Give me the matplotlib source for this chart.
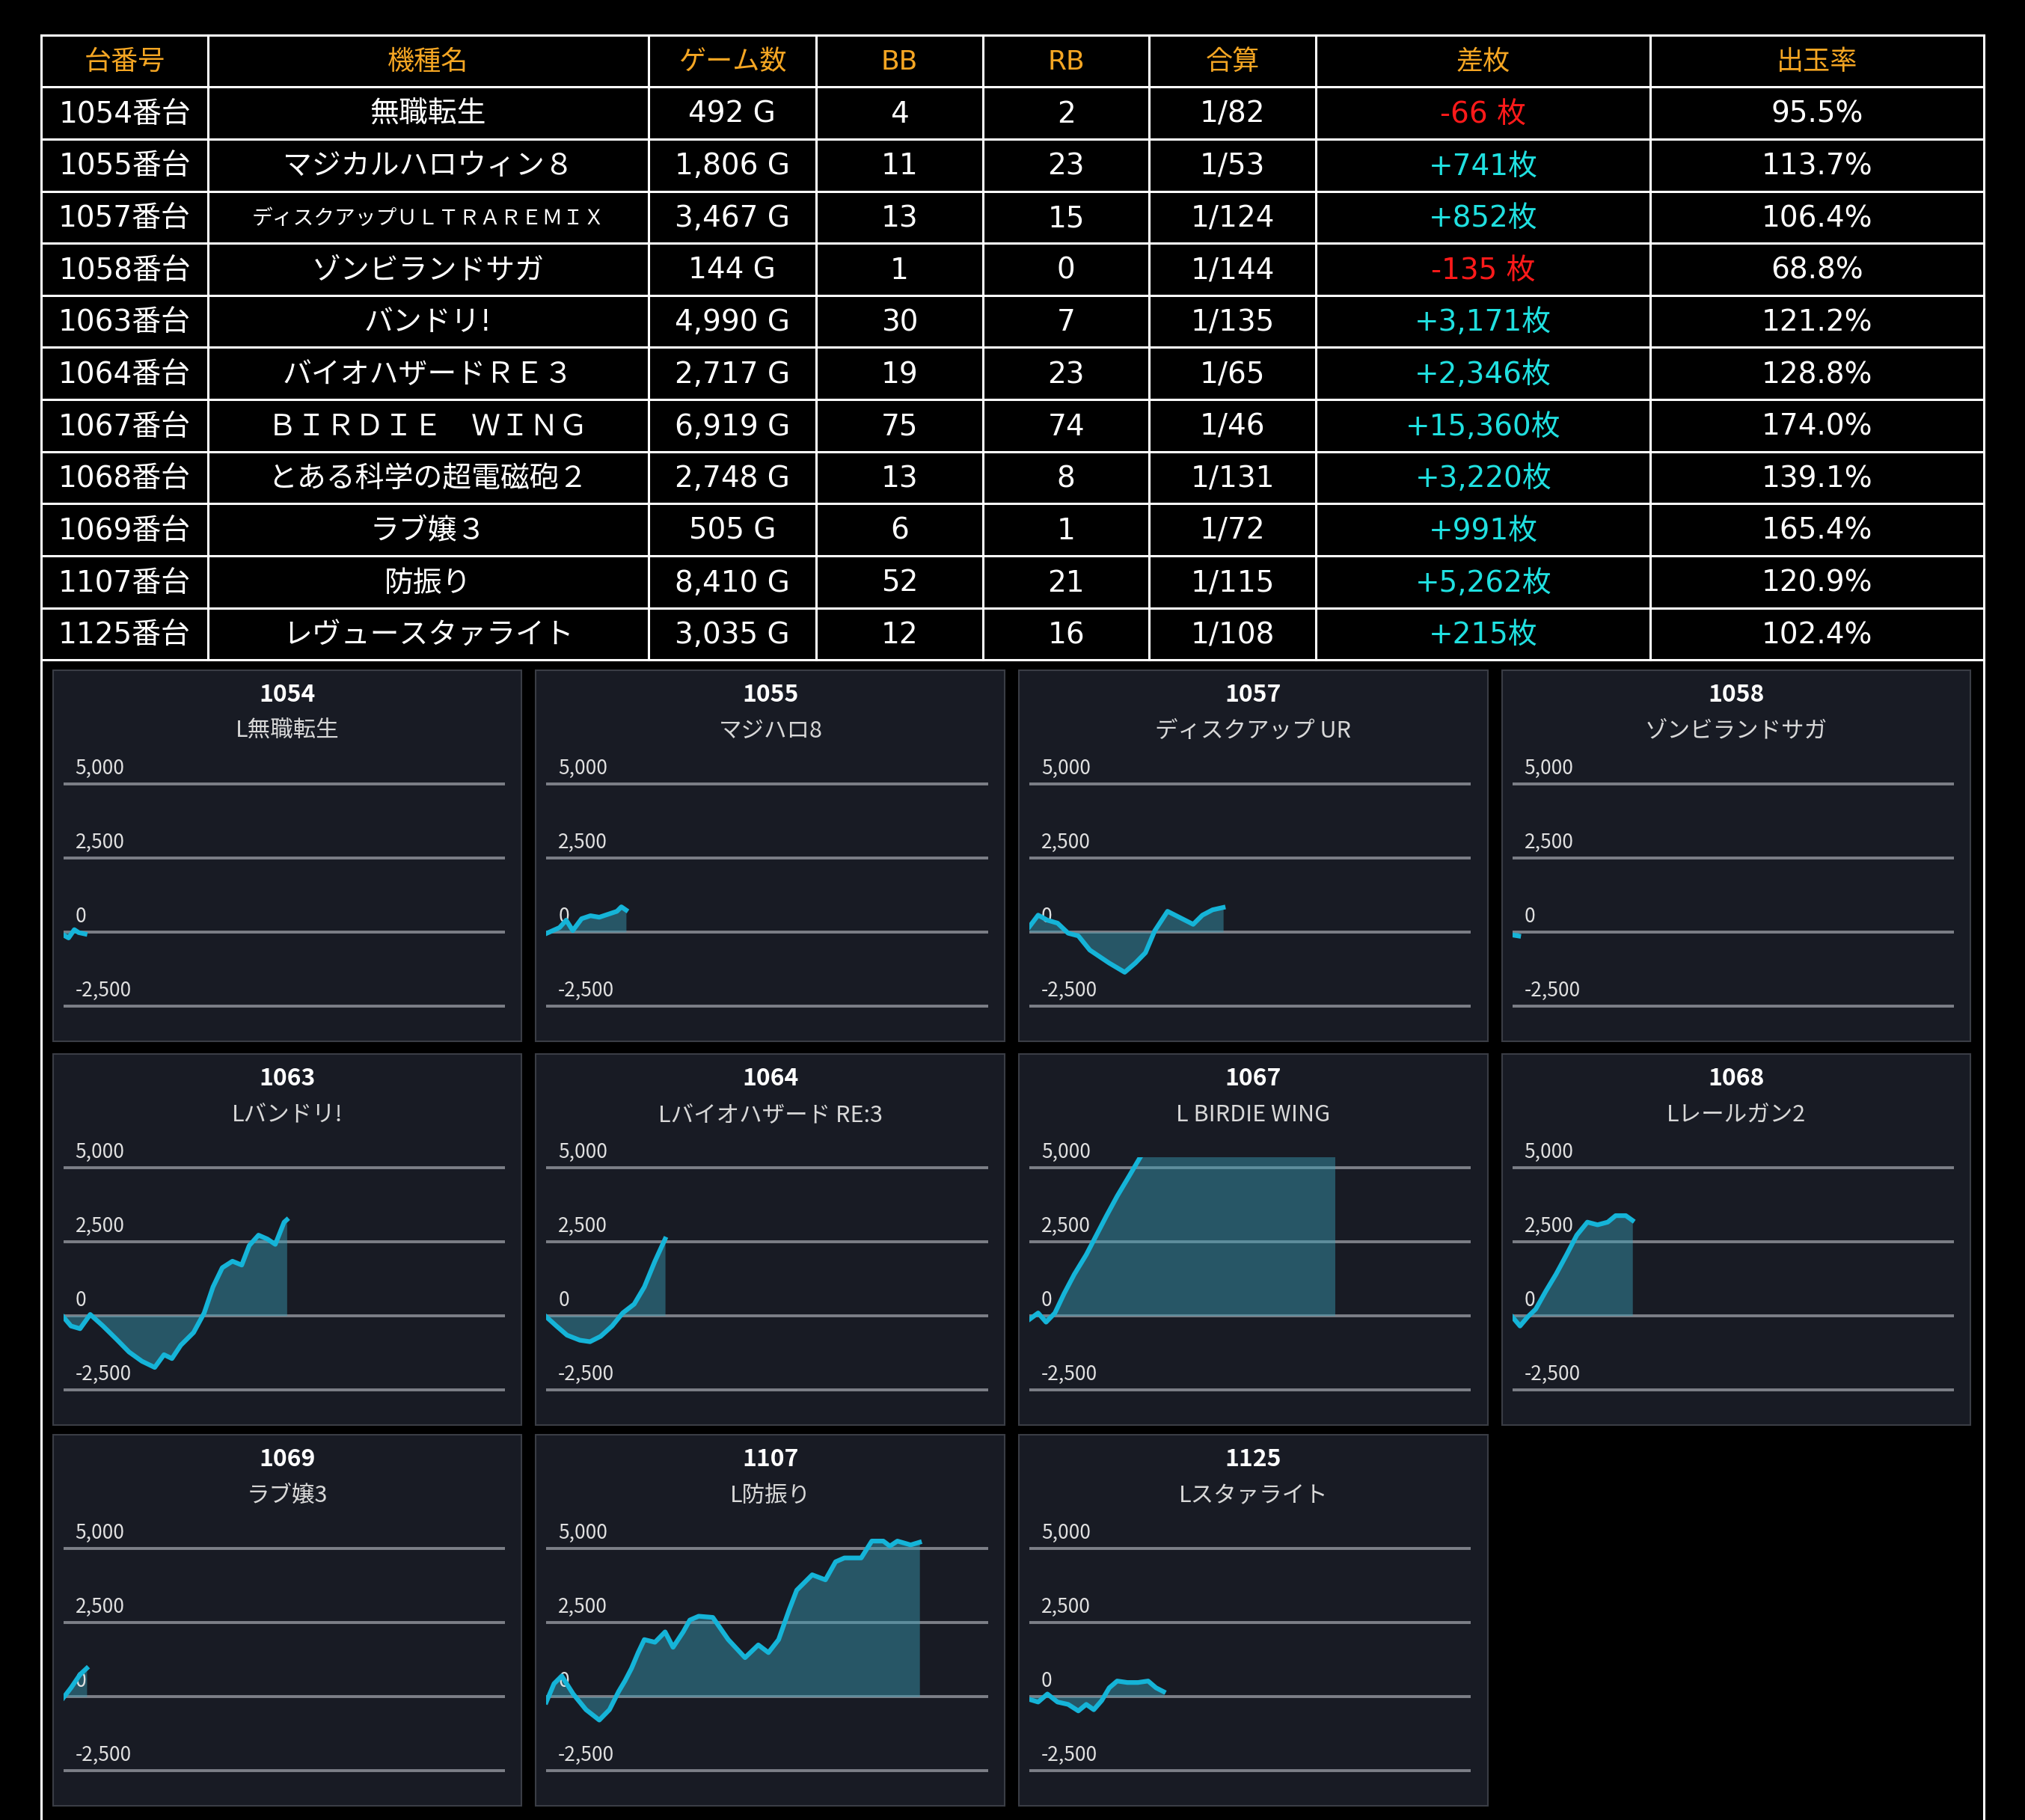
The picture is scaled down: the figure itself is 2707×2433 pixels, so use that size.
import numpy as np
import matplotlib.pyplot as plt
from matplotlib.patches import Rectangle

plt.rcParams['font.family'] = ['Noto Sans CJK JP', 'DejaVu Sans']
TABLE_FONT = ['DejaVu Sans', 'Noto Sans CJK JP']

# table data
headers = ["台番号", "機種名", "ゲーム数", "BB", "RB", "合算", "差枚", "出玉率"]
units = ["1054番台", "1055番台", "1057番台", "1058番台", "1063番台", "1064番台",
         "1067番台", "1068番台", "1069番台", "1107番台", "1125番台"]
machines = ["無職転生", "マジカルハロウィン８", "ディスクアップＵＬＴＲＡＲＥＭＩＸ", "ゾンビランドサガ",
            "バンドリ!", "バイオハザードＲＥ３", "ＢＩＲＤＩＥ　ＷＩＮＧ", "とある科学の超電磁砲２",
            "ラブ嬢３", "防振り", "レヴュースタァライト"]
games = ["492 G", "1,806 G", "3,467 G", "144 G", "4,990 G", "2,717 G", "6,919 G",
         "2,748 G", "505 G", "8,410 G", "3,035 G"]
bb = [4, 11, 13, 1, 30, 19, 75, 13, 6, 52, 12]
rb = [2, 23, 15, 0, 7, 23, 74, 8, 1, 21, 16]
combined = ["1/82", "1/53", "1/124", "1/144", "1/135", "1/65", "1/46", "1/131", "1/72", "1/115", "1/108"]
diff = [-66, 741, 852, -135, 3171, 2346, 15360, 3220, 991, 5262, 215]
rate = ["95.5%", "113.7%", "106.4%", "68.8%", "121.2%", "128.8%", "174.0%",
        "139.1%", "165.4%", "120.9%", "102.4%"]

# chart data: (games, coins)
panel_ids = ["1054", "1055", "1057", "1058", "1063", "1064", "1067", "1068", "1069", "1107", "1125"]
panel_names = ["L無職転生", "マジハロ8", "ディスクアップ UR", "ゾンビランドサガ", "Lバンドリ!",
               "Lバイオハザード RE:3", "L BIRDIE WING", "Lレールガン2", "ラブ嬢3", "L防振り", "Lスタァライト"]
series = [
    [(0, -100), (120, -200), (250, 80), (350, -20), (492, -66)],
    [(0, -50), (300, 150), (450, 400), (600, 50), (800, 450), (1000, 550), (1200, 500),
     (1400, 600), (1600, 700), (1700, 850), (1806, 741)],
    [(0, 175), (200, 570), (410, 400), (640, 300), (880, -40), (1110, -130), (1370, -610),
     (1810, -1050), (2160, -1360), (2400, -1050), (2630, -700), (2840, 40), (3130, 700),
     (3420, 480), (3710, 260), (3920, 570), (4150, 750), (4390, 830)],
    [(0, -100), (144, -135)],
    [(0, -40), (175, -350), (380, -440), (610, 40), (900, -350), (1200, -790), (1490, -1230),
     (1780, -1540), (2070, -1750), (2280, -1320), (2460, -1450), (2660, -1000), (2950, -570),
     (3190, 90), (3390, 970), (3600, 1620), (3830, 1840), (4040, 1710), (4210, 2370),
     (4420, 2720), (4620, 2590), (4800, 2410), (5000, 3160), (5060, 3240)],
    [(0, -40), (230, -350), (470, -660), (760, -830), (990, -880), (1230, -700), (1490, -350),
     (1730, 90), (1990, 390), (2220, 970), (2460, 1840), (2690, 2590)],
    [(0, -130), (200, 90), (380, -220), (580, 90), (790, 750), (1020, 1400), (1290, 2060),
     (1520, 2720), (1750, 3380), (1990, 4040), (2250, 4690), (2510, 5350), (3500, 7600),
     (5000, 11200), (6919, 15360)],
    [(0, -40), (175, -350), (350, -40), (530, 220), (760, 830), (990, 1400), (1230, 2060),
     (1460, 2720), (1700, 3160), (1930, 3070), (2160, 3160), (2340, 3380), (2570, 3380),
     (2720, 3220)],
    [(0, -40), (175, 300), (380, 750), (530, 960)],
    [(0, -180), (175, 440), (350, 700), (610, 90), (900, -440), (1200, -790), (1430, -440),
     (1640, 180), (1780, 530), (1930, 960), (2080, 1490), (2220, 1930), (2460, 1840),
     (2690, 2190), (2870, 1670), (3100, 2190), (3250, 2590), (3450, 2720), (3770, 2680),
     (4120, 1930), (4500, 1320), (4800, 1750), (5030, 1490), (5260, 1930), (5500, 2940),
     (5670, 3600), (6020, 4120), (6320, 3950), (6550, 4560), (6750, 4690), (7130, 4690),
     (7370, 5260), (7630, 5260), (7780, 5090), (7950, 5260), (8250, 5130), (8450, 5220)],
    [(0, -90), (200, -180), (410, 90), (640, -180), (880, -260), (1110, -480), (1290, -260),
     (1460, -440), (1640, -130), (1810, 300), (1990, 530), (2220, 480), (2460, 480),
     (2690, 530), (2870, 300), (3040, 170)],
]

W, H = 1568.0, 1409.0  # layout measured on scaled reference


def fx(x):
    return x / W


def fy(y):
    return 1 - y / H


fig = plt.figure(figsize=(27.07, 24.33), dpi=100, facecolor="black")

# table grid
col_x = [32, 161, 502, 632, 761, 890, 1019, 1278, 1536]
row_top = 27
row_h = (511 - 27) / 12.0
lw = 2.2
for x in col_x:
    y_end = 511 if x not in (32, 1536) else 1409
    fig.add_artist(plt.Line2D([fx(x), fx(x)], [fy(row_top), fy(y_end)], color="white", lw=lw))
for i in range(13):
    y = row_top + i * row_h
    fig.add_artist(plt.Line2D([fx(32), fx(1536)], [fy(y), fy(y)], color="white", lw=lw))

for j, h in enumerate(headers):
    cx = (col_x[j] + col_x[j + 1]) / 2
    fig.text(fx(cx), fy(row_top + row_h / 2 + 1), h, color="#f5a623", fontsize=26,
             ha="center", va="center", family=TABLE_FONT)

for i in range(len(units)):
    cy = fy(row_top + (i + 1.5) * row_h + 1)
    d = diff[i]
    dtxt = f"+{d:,}枚" if d > 0 else f"{d:,} 枚"
    dcol = "#20e0e0" if d > 0 else "#ff1a1a"
    cells = [units[i], machines[i], games[i], str(bb[i]), str(rb[i]), combined[i], dtxt, rate[i]]
    for j, c in enumerate(cells):
        cx = fx((col_x[j] + col_x[j + 1]) / 2)
        fs = 28
        if j == 1 and len(c) > 12:
            fs = 20
        fig.text(cx, cy, c, color=dcol if j == 6 else "white", fontsize=fs,
                 ha="center", va="center", family=TABLE_FONT)

# panels
panel_left = [41, 415, 789, 1163]
panel_top = [519, 816, 1111]
pw, ph = 363, 287
ymin, ymax = -3600, 5350
for k in range(len(series)):
    r, c = divmod(k, 4)
    px, py = panel_left[c], panel_top[r]
    fig.add_artist(Rectangle((fx(px), fy(py + ph)), pw / W, ph / H, facecolor="#181b24",
                             edgecolor="#3a3d45", lw=1.5, zorder=0.5))
    fig.text(fx(px + pw / 2), fy(py + 19), panel_ids[k], color="white", fontsize=23,
             fontweight="bold", ha="center", va="center")
    fig.text(fx(px + pw / 2), fy(py + 47), panel_names[k], color="#d8d8d8", fontsize=22,
             ha="center", va="center")
    ax = fig.add_axes([fx(px + 8), fy(py + 285), 342 / W, (285 - 80) / H], zorder=2)
    ax.set_facecolor("none")
    ax.patch.set_alpha(0)
    ax.set_xlim(0, 10000)
    ax.set_ylim(ymin, ymax)
    ax.axis("off")
    for v in (5000, 2500, 0, -2500):
        ax.axhline(v, color="#7c7f87", lw=2.8, zorder=1)
        ax.text(270, v + 180, f"{v:,}", color="#e0e0e0", fontsize=19, ha="left", va="bottom")
    gx = [p[0] for p in series[k]]
    gy = [p[1] for p in series[k]]
    ax.fill_between(gx, 0, gy, color="#3aa0b8", alpha=0.45, lw=0, zorder=2)
    ax.plot(gx, gy, color="#15b4d8", lw=4.5, zorder=3, solid_joinstyle="round")

fig.savefig("out.png", dpi=100, facecolor="black")
